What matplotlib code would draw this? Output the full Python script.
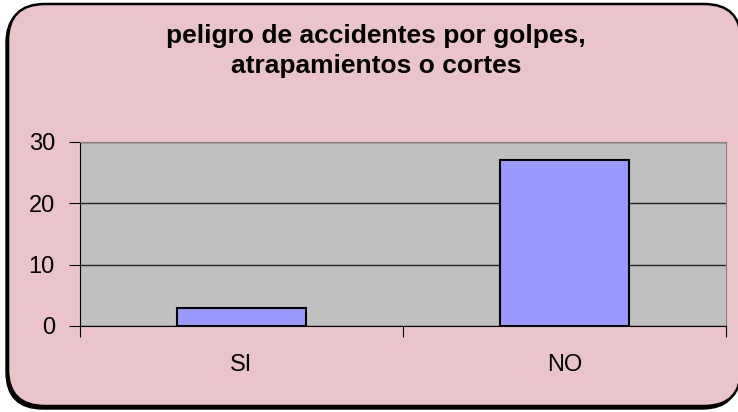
import matplotlib.pyplot as plt
from matplotlib.patches import FancyBboxPatch

categories = ["SI", "NO"]
values = [3, 27]
yticks = [0, 10, 20, 30]
title = "peligro de accidentes por golpes,\natrapamientos o cortes"

W, H = 738, 412
fig = plt.figure(figsize=(W / 100, H / 100), dpi=100)
fig.patch.set_facecolor("white")

# rounded frame with shadow (pixel coords -> figure fraction)
def box(x0, y0, x1, y1, **kw):
    p = FancyBboxPatch((x0 / W, 1 - y1 / H), (x1 - x0) / W, (y1 - y0) / H,
                       boxstyle="round,pad=0,rounding_size=0.05",
                       transform=fig.transFigure, mutation_aspect=W / H,
                       zorder=-5, **kw)
    fig.patches.append(p)

box(6, 6, 739, 409, facecolor="black", edgecolor="black", lw=1)
box(8, 4, 741, 406, facecolor="#EBC3CA", edgecolor="black", lw=1.8)

ax = fig.add_axes([80 / W, 1 - 326 / H, 646 / W, 184 / H])
ax.set_zorder(2)
ax.set_facecolor("#C0C0C0")
x = range(len(categories))
ax.bar(x, values, width=0.4, color="#9999FF", edgecolor="black", lw=1.5, zorder=3)
ax.set_xlim(-0.5, len(categories) - 0.5)
ax.set_ylim(0, 30)
ax.set_yticks(yticks)
ax.yaxis.grid(True, color="#222222", lw=1, zorder=1)
ax.set_axisbelow(True)
for s in ["top", "right"]:
    ax.spines[s].set_color("#808080")
ax.spines["left"].set_color("black")
ax.spines["bottom"].set_color("black")

ax.set_xticks([-0.5, 0.5, 1.5], minor=False)
ax.set_xticklabels([])
ax.set_xticks(list(x), minor=True)
ax.set_xticklabels(categories, minor=True)
ax.tick_params(axis="x", which="major", length=8, direction="out")
ax.tick_params(axis="x", which="minor", length=0, pad=20, labelsize=17)
ax.tick_params(axis="y", length=8, direction="out", pad=10, labelsize=17)
for lab in ax.get_xticklabels(minor=True) + ax.get_yticklabels():
    lab.set_fontfamily("Liberation Sans")

fig.text(376 / W, 1 - 51 / H, title, ha="center", va="center", fontsize=19,
         fontweight="bold", family="Liberation Sans", linespacing=1.35)

fig.savefig("out.png", dpi=100)
